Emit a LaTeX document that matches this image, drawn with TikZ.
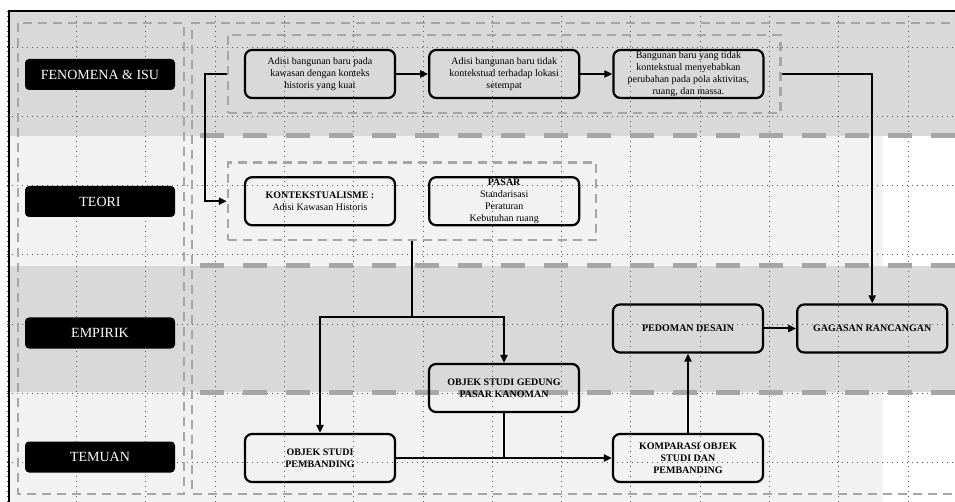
\documentclass[tikz,border=0pt]{standalone}
\usepackage{fontspec}
\setmainfont{Liberation Serif}
\usepackage{tikz}
\usetikzlibrary{positioning,fit,arrows.meta}
\definecolor{bandDark}{HTML}{D9D9D9}
\definecolor{bandLight}{HTML}{F2F2F2}
\definecolor{dashGray}{HTML}{A6A6A6}

\begin{document}
\begin{tikzpicture}[x=1pt, y=-1pt, node distance = 32pt,
  tag/.style = {fill=black, text=white, rounded corners=4pt, minimum width=150pt, minimum height=31pt, inner sep=0pt, font=\fontsize{14}{16}\selectfont},
  box/.style = {draw, line width=2.2pt, rounded corners=7pt, minimum width=150pt, minimum height=48pt, inner sep=0pt, align=center, font=\fontsize{10}{12}\selectfont},
  boldbox/.style = {box, font=\fontsize{10}{12}\selectfont\bfseries},
  dashframe/.style = {draw=dashGray, line width=2.2pt, dash pattern=on 9pt off 6pt},
  bandline/.style = {draw=dashGray, line width=5pt, dash pattern=on 24pt off 19pt},
  gridline/.style = {black!65, line width=0.5pt, dash pattern=on 0.7pt off 4.3pt},
  conn/.style = {line width=2pt},
  arr/.style = {conn, -{Triangle[length=8pt,width=7pt]}}]
\useasboundingbox (0,0) rectangle (955,502);
\fill[white] (0,0) rectangle (955,502);

% bands
\fill[bandDark] (9,11) rectangle (955,136);
\fill[bandLight] (9,136) rectangle (883,266);
\fill[bandDark] (9,266) rectangle (955,392);
\fill[bandLight] (9,392) rectangle (883,502);

\foreach \gx in {7,76.3,...,950} \draw[gridline] (\gx,11) -- (\gx,502);
\foreach \gy in {47,116.2,...,470} \draw[gridline] (7,\gy) -- (955,\gy);

\draw[bandline] (200,136) -- (955,136);
\draw[bandline] (200,266) -- (955,266);
\draw[bandline] (200,392) -- (955,392);

\draw[dashframe] (18,23) rectangle (184,494);
\draw[dashframe] (965,23) -- (192,23) -- (192,494) -- (965,494);
\draw[line width=1.5pt] (965,11) -- (9,11) -- (9,510);

\node[tag] (fenomena) at (100,74.5) {FENOMENA \& ISU};
\node[tag] (teori) at (100,201.5) {TEORI};
\node[tag] (empirik) at (100,333) {EMPIRIK};
\node[tag] (temuan) at (100,457) {TEMUAN};

\node[box] (adisiPada) at (320,74) {Adisi bangunan baru pada\\kawasan dengan konteks\\historis yang kuat};
\node[box, right=of adisiPada] (adisiTidak) {Adisi bangunan baru tidak\\kontekstual terhadap lokasi\\setempat};
\node[box, right=of adisiTidak] (perubahan) {Bangunan baru yang tidak\\kontekstual menyebabkan\\perubahan pada pola aktivitas,\\ruang, dan massa.};

\node[box, below=77pt of adisiPada] (konteks) {\textbf{KONTEKSTUALISME :}\\Adisi Kawasan Historis};
\node[box, right=of konteks] (pasar) {\textbf{PASAR}\\Standarisasi\\Peraturan\\Kebutuhan ruang};

\node[dashframe, fit=(adisiPada)(perubahan), inner xsep=16pt, inner ysep=14pt] (isuFrame) {};
\node[dashframe, fit=(konteks)(pasar), inner xsep=16pt, inner ysep=13.5pt] (teoriFrame) {};

\node[boldbox] (pedoman) at (688,328.5) {PEDOMAN DESAIN};
\node[boldbox, right=of pedoman] (gagasan) {GAGASAN RANCANGAN};
\node[boldbox] (gedung) at (504,388) {OBJEK STUDI GEDUNG\\PASAR KANOMAN};
\node[boldbox] (pembanding) at (320,458) {OBJEK STUDI\\PEMBANDING};
\node[boldbox] (komparasi) at (688,458) {KOMPARASI OBJEK\\STUDI DAN\\PEMBANDING};

\draw[arr] (adisiPada) -- (adisiTidak);
\draw[arr] (adisiTidak) -- (perubahan);
\draw[arr] (isuFrame.west) -- ++(-22,0) |- (teoriFrame.west);
\draw[arr] (isuFrame.east) -| (gagasan.north);

\coordinate (split) at (teoriFrame.south |- 0,317);
\draw[conn] (teoriFrame.south) -- (split);
\draw[arr] (split) -| (pembanding.north);
\draw[arr] (split) -| (gedung.north);
\draw[arr] (pembanding) -- (komparasi);
\draw[conn] (gedung.south) -- (gedung.south |- komparasi.west);
\draw[arr] (komparasi) -- (pedoman);
\draw[arr] (pedoman) -- (gagasan);
\end{tikzpicture}
\end{document}
